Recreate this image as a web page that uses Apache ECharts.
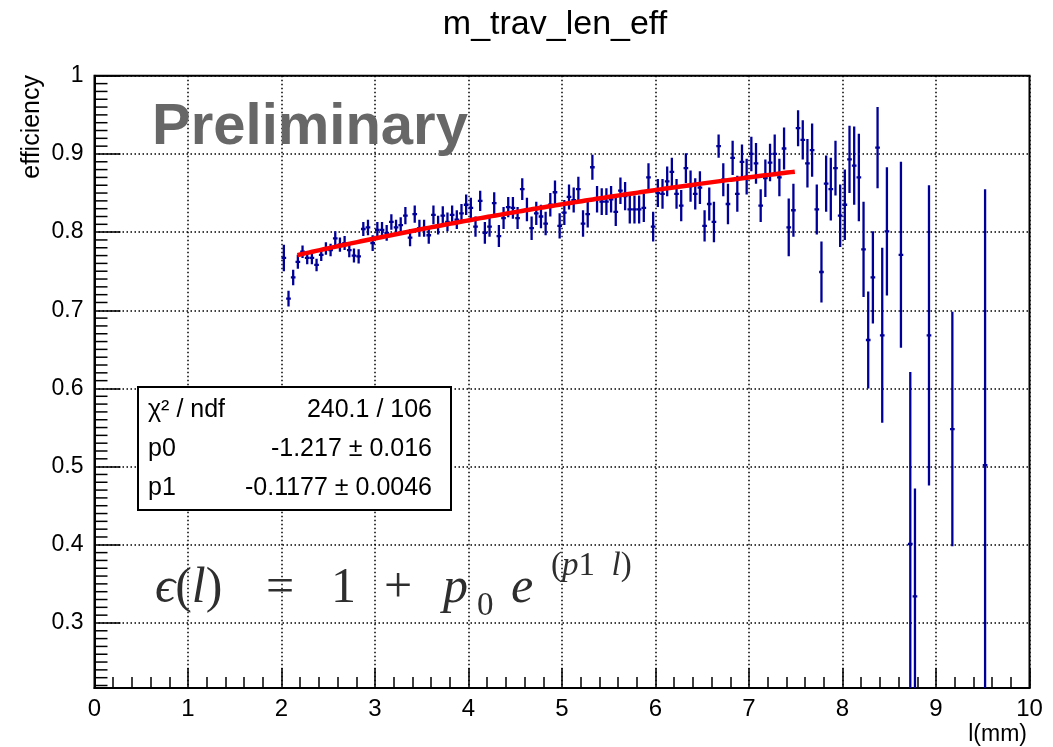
<!DOCTYPE html>
<html>
<head>
<meta charset="utf-8">
<title>m_trav_len_eff</title>
<script src="https://cdn.jsdelivr.net/npm/echarts@6/dist/echarts.min.js"></script>
<style>
  html, body { margin: 0; padding: 0; background: #ffffff; }
  #chart { width: 1053px; height: 747px; }
</style>
</head>
<body>
<div id="chart"></div>
<script>
// Track length bin centres (mm), bin width 0.05 mm
const lengths = [
  2.025, 2.075, 2.125, 2.175, 2.225, 2.275, 2.325, 2.375, 2.425, 2.475,
  2.525, 2.575, 2.625, 2.675, 2.725, 2.775, 2.825, 2.875, 2.925, 2.975,
  3.025, 3.075, 3.125, 3.175, 3.225, 3.275, 3.325, 3.375, 3.425, 3.475,
  3.525, 3.575, 3.625, 3.675, 3.725, 3.775, 3.825, 3.875, 3.925, 3.975,
  4.025, 4.075, 4.125, 4.175, 4.225, 4.275, 4.325, 4.375, 4.425, 4.475,
  4.525, 4.575, 4.625, 4.675, 4.725, 4.775, 4.825, 4.875, 4.925, 4.975,
  5.025, 5.075, 5.125, 5.175, 5.225, 5.275, 5.325, 5.375, 5.425, 5.475,
  5.525, 5.575, 5.625, 5.675, 5.725, 5.775, 5.825, 5.875, 5.925, 5.975,
  6.025, 6.075, 6.125, 6.175, 6.225, 6.275, 6.325, 6.375, 6.425, 6.475,
  6.525, 6.575, 6.625, 6.675, 6.725, 6.775, 6.825, 6.875, 6.925, 6.975,
  7.025, 7.075, 7.125, 7.175, 7.225, 7.275, 7.325, 7.375, 7.425, 7.475,
  7.525, 7.575, 7.625, 7.675, 7.725, 7.775, 7.825, 7.875, 7.925, 7.975,
  8.025, 8.075, 8.125, 8.175, 8.225, 8.275, 8.325, 8.375, 8.425, 8.475,
  8.625, 8.725, 8.775, 8.925, 9.175, 9.525
];

// Efficiency per bin
const efficiency = [
  0.767, 0.715, 0.742, 0.762, 0.775, 0.767, 0.767, 0.758, 0.771, 0.779,
  0.777, 0.792, 0.784, 0.786, 0.777, 0.770, 0.769, 0.804, 0.806, 0.786,
  0.803, 0.803, 0.799, 0.813, 0.806, 0.809, 0.821, 0.793, 0.823, 0.805,
  0.805, 0.796, 0.822, 0.809, 0.821, 0.813, 0.822, 0.816, 0.824, 0.835,
  0.831, 0.807, 0.840, 0.799, 0.807, 0.837, 0.795, 0.818, 0.832, 0.831,
  0.818, 0.855, 0.829, 0.805, 0.824, 0.820, 0.811, 0.835, 0.851, 0.808,
  0.825, 0.845, 0.841, 0.855, 0.811, 0.823, 0.883, 0.842, 0.839, 0.839,
  0.842, 0.826, 0.853, 0.846, 0.829, 0.829, 0.829, 0.831, 0.870, 0.807,
  0.850, 0.849, 0.865, 0.877, 0.849, 0.834, 0.882, 0.859, 0.849, 0.857,
  0.808, 0.836, 0.813, 0.910, 0.867, 0.836, 0.895, 0.849, 0.890, 0.871,
  0.900, 0.888, 0.834, 0.869, 0.889, 0.900, 0.870, 0.907, 0.806, 0.828,
  0.933, 0.918, 0.888, 0.905, 0.829, 0.749, 0.862, 0.855, 0.882, 0.821,
  0.835, 0.893, 0.885, 0.870, 0.778, 0.662, 0.742, 0.908, 0.668, 0.801,
  0.771, 0.401, 0.334, 0.668, 0.548, 0.502
];

// Statistical uncertainty per bin
const efficiencyErr = [
  0.017, 0.010, 0.010, 0.009, 0.008, 0.008, 0.008, 0.008, 0.008, 0.008,
  0.008, 0.009, 0.009, 0.009, 0.009, 0.009, 0.009, 0.009, 0.010, 0.010,
  0.010, 0.010, 0.010, 0.010, 0.010, 0.010, 0.011, 0.011, 0.011, 0.011,
  0.011, 0.011, 0.012, 0.012, 0.012, 0.012, 0.012, 0.012, 0.012, 0.013,
  0.013, 0.013, 0.013, 0.014, 0.013, 0.014, 0.014, 0.014, 0.013, 0.014,
  0.014, 0.014, 0.015, 0.015, 0.015, 0.015, 0.015, 0.015, 0.015, 0.016,
  0.016, 0.016, 0.016, 0.016, 0.017, 0.017, 0.016, 0.017, 0.017, 0.017,
  0.017, 0.018, 0.017, 0.018, 0.018, 0.018, 0.018, 0.018, 0.018, 0.019,
  0.018, 0.019, 0.019, 0.018, 0.019, 0.020, 0.019, 0.020, 0.020, 0.021,
  0.020, 0.021, 0.026, 0.015, 0.021, 0.026, 0.022, 0.023, 0.022, 0.023,
  0.022, 0.026, 0.021, 0.024, 0.024, 0.025, 0.024, 0.027, 0.037, 0.034,
  0.023, 0.025, 0.031, 0.034, 0.032, 0.039, 0.036, 0.040, 0.035, 0.040,
  0.045, 0.043, 0.050, 0.056, 0.061, 0.062, 0.059, 0.052, 0.112, 0.082,
  0.119, 0.220, 0.138, 0.192, 0.150, 0.353
];

const binHalfWidth = 0.025;

// Fit result: efficiency = 1 - exp(p0 + p1 * l)
const fitP0 = -1.217;
const fitP1 = -0.1177;
const fitRange = [2.17, 7.5];

// Axis ranges and tick labels
const xMin = 0, xMax = 10;
const yMin = 0.2168, yMax = 1.0;
const yTickValues = [0.3, 0.4, 0.5, 0.6, 0.7, 0.8, 0.9, 1.0];
const yTickLabels = ['0.3', '0.4', '0.5', '0.6', '0.7', '0.8', '0.9', '1'];

// Statistics box rows
const statRows = [
  ['\u03C7\u00B2 / ndf', '240.1 / 106'],
  ['p0', '-1.217 \u00B1 0.016'],
  ['p1', '-0.1177 \u00B1 0.0046']
];

const SANS = '"Liberation Sans", Arial, Helvetica, sans-serif';
const SERIF = '"Liberation Serif", "DejaVu Serif", "Times New Roman", serif';
const MARKER = '#000099';

const points = lengths.map((l, i) => [l, efficiency[i], efficiencyErr[i]]);

const fitCurve = [];
for (let l = fitRange[0]; l <= fitRange[1] + 1e-9; l += 0.02) {
  fitCurve.push([l, 1 - Math.exp(fitP0 + fitP1 * l)]);
}

// y minor ticks every 0.01 (major ones come from the axis)
const yMinor = [];
for (let k = 22; k < 100; k++) {
  if (k % 10 !== 0) yMinor.push([k / 100]);
}

const chart = echarts.init(document.getElementById('chart'), null, { renderer: 'canvas' });

const graphics = [
  // title
  { type: 'text', x: 555, y: 25, z: 100,
    style: { text: 'm_trav_len_eff', font: '34px ' + SANS, fill: '#000',
             textAlign: 'center', textVerticalAlign: 'middle' } },
  // y axis title
  { type: 'text', x: 32, y: 75, rotation: Math.PI / 2, z: 100,
    style: { text: 'efficiency', font: '25px ' + SANS, fill: '#000',
             textAlign: 'right', textVerticalAlign: 'middle' } },
  // x axis title
  { type: 'text', x: 1027, y: 735, z: 100,
    style: { text: 'l(mm)', font: '23px ' + SANS, fill: '#000',
             textAlign: 'right', textVerticalAlign: 'middle' } },
  // Preliminary tag
  { type: 'text', x: 152, y: 128, z: 100,
    style: { text: 'Preliminary', font: 'bold 58px ' + SANS, fill: '#676767',
             textAlign: 'left', textVerticalAlign: 'middle' } },
  // statistics box
  { type: 'rect', z: 100,
    shape: { x: 138, y: 387, width: 313, height: 123 },
    style: { fill: '#fff', stroke: '#000', lineWidth: 2 } }
];

statRows.forEach((row, i) => {
  const y = 410 + i * 39;
  graphics.push({ type: 'text', x: 148, y: y, z: 101,
    style: { text: row[0], font: '25px ' + SANS, fill: '#000',
             textAlign: 'left', textVerticalAlign: 'middle' } });
  graphics.push({ type: 'text', x: 432, y: y, z: 101,
    style: { text: row[1], font: '25px ' + SANS, fill: '#000',
             textAlign: 'right', textVerticalAlign: 'middle' } });
});

// Fit function formula
const formulaColor = '#2e2e2e';
const formulaY = 589;
const rich = {
  i: { fontFamily: SERIF, fontStyle: 'italic', fontSize: 50, color: formulaColor },
  r: { fontFamily: SERIF, fontStyle: 'normal', fontSize: 50, color: formulaColor },
  si: { fontFamily: SERIF, fontStyle: 'italic', fontSize: 33, color: formulaColor },
  sr: { fontFamily: SERIF, fontStyle: 'normal', fontSize: 33, color: formulaColor }
};
const formulaParts = [
  { x: 155, y: formulaY, text: '{i|\u03F5}{r|(}{i|l}{r|)}' },
  { x: 266, y: formulaY, text: '{r|=}' },
  { x: 331, y: formulaY, text: '{r|1}' },
  { x: 384, y: formulaY, text: '{r|+}' },
  { x: 443, y: formulaY, text: '{i|p}' },
  { x: 477, y: 606, text: '{sr|0}' },
  { x: 511, y: formulaY, text: '{i|e}' },
  { x: 551, y: 566, text: '{sr|(}{si|p}{sr|1}{sr|  }{si|l}{sr|)}' }
];
formulaParts.forEach(p => {
  graphics.push({ type: 'text', x: p.x, y: p.y, z: 100,
    style: { text: p.text, rich: rich, font: '50px ' + SERIF, fill: formulaColor,
             textAlign: 'left', textVerticalAlign: 'middle' } });
});

const option = {
  backgroundColor: '#ffffff',
  animation: false,
  grid: {
    left: 94.5, right: 23.5, top: 75.8, bottom: 59,
    show: true, borderColor: '#000', borderWidth: 2, backgroundColor: '#fff'
  },
  xAxis: {
    type: 'value', min: xMin, max: xMax, interval: 1,
    axisLine: { show: true, onZero: false, lineStyle: { color: '#000', width: 2 } },
    axisTick: { show: true, inside: true, length: 20, lineStyle: { color: '#000', width: 1.5 } },
    minorTick: { show: true, splitNumber: 5, length: 11, lineStyle: { color: '#000', width: 1.5 } },
    axisLabel: { color: '#000', fontSize: 24, fontFamily: SANS, margin: 9 },
    splitLine: { show: true, lineStyle: { color: '#000', width: 1.5, type: [1.5, 2.5] } }
  },
  yAxis: {
    type: 'value', min: yMin, max: yMax,
    axisLine: { show: true, onZero: false, lineStyle: { color: '#000', width: 2 } },
    axisTick: { show: true, inside: true, length: 26, customValues: yTickValues,
                lineStyle: { color: '#000', width: 1.5 } },
    axisLabel: {
      color: '#000', fontSize: 23, fontFamily: SANS, margin: 11,
      customValues: yTickValues,
      formatter: v => {
        const idx = yTickValues.findIndex(t => Math.abs(t - v) < 1e-6);
        return idx >= 0 ? yTickLabels[idx] : '';
      }
    },
    splitLine: { show: true, lineStyle: { color: '#000', width: 1.5, type: [1.5, 2.5] } }
  },
  series: [
    {
      // minor ticks along the y axis
      type: 'custom', name: 'yMinorTicks', silent: true, z: 3,
      data: yMinor,
      encode: { y: 0 },
      renderItem: (params, api) => {
        const p = api.coord([xMin, api.value(0)]);
        return { type: 'line', shape: { x1: p[0], y1: p[1], x2: p[0] + 13, y2: p[1] },
                 style: { stroke: '#000', lineWidth: 1.5 } };
      }
    },
    {
      type: 'custom', name: 'efficiency', z: 5, clip: true,
      data: points,
      encode: { x: 0, y: 1 },
      renderItem: (params, api) => {
        const x = api.value(0), y = api.value(1), e = api.value(2);
        const c = api.coord([x, y]);
        const top = api.coord([x, y + e]);
        const bot = api.coord([x, y - e]);
        const left = api.coord([x - binHalfWidth, y]);
        const right = api.coord([x + binHalfWidth, y]);
        const st = { stroke: MARKER, lineWidth: 2.3 };
        return {
          type: 'group',
          children: [
            { type: 'line', shape: { x1: c[0], y1: top[1], x2: c[0], y2: bot[1] }, style: st },
            { type: 'line', shape: { x1: left[0], y1: c[1], x2: right[0], y2: c[1] }, style: st }
          ]
        };
      }
    },
    {
      type: 'line', name: 'fit', z: 6,
      data: fitCurve, showSymbol: false, smooth: false,
      lineStyle: { color: '#ff0000', width: 4.5 }
    }
  ],
  graphic: graphics
};

chart.setOption(option);
</script>
</body>
</html>
